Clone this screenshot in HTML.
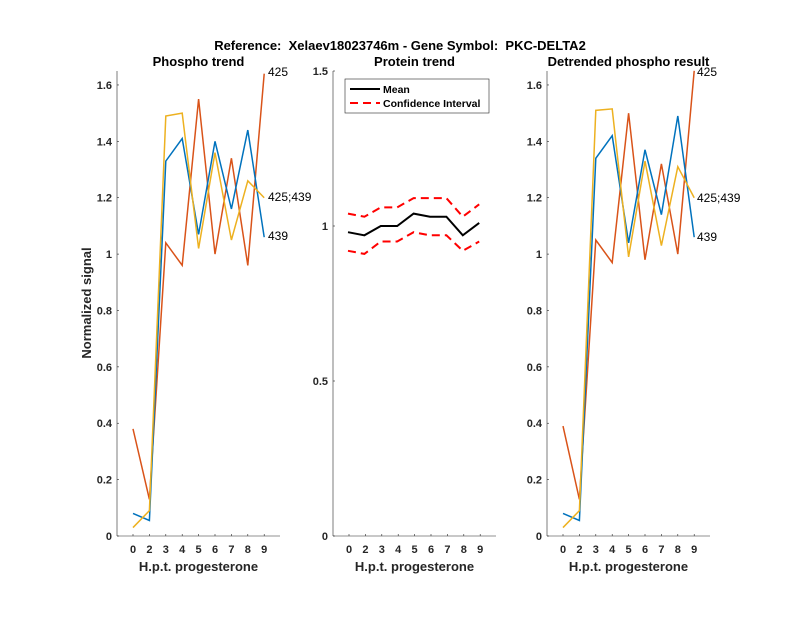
<!DOCTYPE html>
<html><head><meta charset="utf-8"><style>
body{margin:0;background:#fff;}
svg{font-family:"Liberation Sans",sans-serif;}
</style></head><body>
<svg id="s" width="800" height="618" xmlns="http://www.w3.org/2000/svg">
<rect width="800" height="618" fill="#fff"/>
<text x="400" y="50" text-anchor="middle" font-size="13" font-weight="bold" style="white-space:pre">Reference:  Xelaev18023746m - Gene Symbol:  PKC-DELTA2</text>
</svg>
<script>
const s=document.getElementById('s');const NS='http://www.w3.org/2000/svg';
function el(t,a,txt){const e=document.createElementNS(NS,t);for(const k in a)e.setAttribute(k,a[k]);if(txt!==undefined)e.textContent=txt;s.appendChild(e);return e;}
const labs=['0','2','3','4','5','6','7','8','9'];
function axes(x0,title,ymap,yt,ytl,xlabel){
  const xl=x0,xr=x0+163,yb=536,yt0=71;
  el('line',{x1:xl,y1:yt0,x2:xl,y2:yb,stroke:'#262626','stroke-width':0.6});
  el('line',{x1:xl,y1:yb,x2:xr,y2:yb,stroke:'#262626','stroke-width':0.6});
  for(let i=0;i<9;i++){const x=x0+16+16.4*i;el('line',{x1:x,y1:yb,x2:x,y2:yb-2,stroke:'#262626','stroke-width':0.6});
    el('text',{x:x,y:yb+17,'text-anchor':'middle','font-size':11,'font-weight':'bold',fill:'#262626'},labs[i]);}
  yt.forEach((v,j)=>{const y=ymap(v);el('line',{x1:xl,y1:y,x2:xl+2,y2:y,stroke:'#262626','stroke-width':0.6});
    el('text',{x:xl-5,y:y+4,'text-anchor':'end','font-size':11,'font-weight':'bold',fill:'#262626'},ytl[j]);});
  el('text',{x:(xl+xr)/2,y:66,'text-anchor':'middle','font-size':13,'font-weight':'bold'},title);
  el('text',{x:(xl+xr)/2,y:571,'text-anchor':'middle','font-size':13,'font-weight':'bold',fill:'#262626'},xlabel);
}
function line(x0,ymap,d,c,extra){const p=d.map((v,i)=>(x0+16+16.4*i)+','+ymap(v)).join(' ');
  const a={points:p,fill:'none',stroke:c,'stroke-width':extra&&extra.w||1.5};if(extra&&extra.dash)a['stroke-dasharray']=extra.dash;el('polyline',a);}
const yA=v=>536-v*281.9;
const R='#d95319',B='#0072bd',Y='#edb120';
axes(117,'Phospho trend',yA,[0,0.2,0.4,0.6,0.8,1,1.2,1.4,1.6],['0','0.2','0.4','0.6','0.8','1','1.2','1.4','1.6'],'H.p.t. progesterone');
line(117,yA,[0.38,0.13,1.04,0.96,1.55,1.0,1.34,0.96,1.64],R);
line(117,yA,[0.08,0.055,1.33,1.41,1.07,1.40,1.16,1.44,1.06],B);
line(117,yA,[0.03,0.09,1.49,1.50,1.02,1.36,1.05,1.26,1.20],Y);
el('text',{x:268,y:76,'font-size':12},'425');
el('text',{x:268,y:201,'font-size':12},'425;439');
el('text',{x:268,y:240,'font-size':12},'439');
el('text',{x:91,y:303,'font-size':13,'font-weight':'bold',fill:'#262626',transform:'rotate(-90 91 303)','text-anchor':'middle'},'Normalized signal');
const yM=v=>536-v*310;
axes(333,'Protein trend',yM,[0,0.5,1,1.5],['0','0.5','1','1.5'],'H.p.t. progesterone');
line(332,yM,[1.04,1.03,1.06,1.06,1.09,1.09,1.09,1.03,1.07],'#ff0000',{dash:'8,5',w:2});
line(332,yM,[0.92,0.91,0.95,0.95,0.98,0.97,0.97,0.92,0.95],'#ff0000',{dash:'8,5',w:2});
line(332,yM,[0.98,0.97,1.0,1.0,1.04,1.03,1.03,0.97,1.01],'#000',{w:2});
el('rect',{x:345,y:79,width:144,height:34,fill:'#fff',stroke:'#262626','stroke-width':0.6});
el('line',{x1:350,y1:89,x2:380,y2:89,stroke:'#000','stroke-width':2});
el('line',{x1:350,y1:103,x2:380,y2:103,stroke:'#f00','stroke-width':2,'stroke-dasharray':'8,5'});
el('text',{x:383,y:93,'font-size':10.5,'font-weight':'bold'},'Mean');
el('text',{x:383,y:107,'font-size':10.5,'font-weight':'bold'},'Confidence Interval');
axes(547,'Detrended phospho result',yA,[0,0.2,0.4,0.6,0.8,1,1.2,1.4,1.6],['0','0.2','0.4','0.6','0.8','1','1.2','1.4','1.6'],'H.p.t. progesterone');
line(547,yA,[0.39,0.13,1.05,0.97,1.50,0.98,1.32,1.0,1.65],R);
line(547,yA,[0.08,0.055,1.34,1.42,1.04,1.37,1.14,1.49,1.06],B);
line(547,yA,[0.03,0.09,1.51,1.515,0.99,1.33,1.03,1.31,1.20],Y);
el('text',{x:697,y:76,'font-size':12},'425');
el('text',{x:697,y:202,'font-size':12},'425;439');
el('text',{x:697,y:241,'font-size':12},'439');
</script>
</body></html>
